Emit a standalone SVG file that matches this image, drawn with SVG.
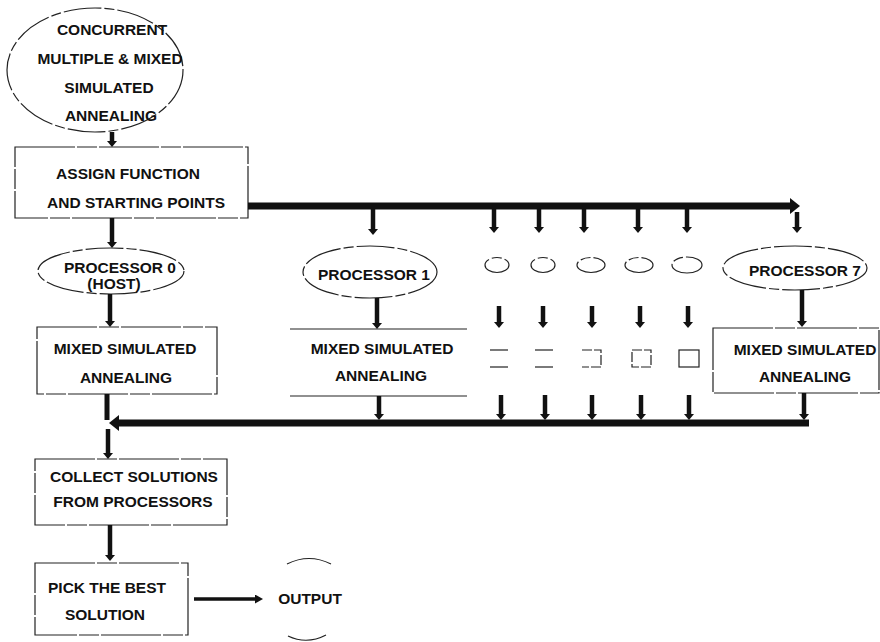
<svg xmlns="http://www.w3.org/2000/svg" width="880" height="642" viewBox="0 0 880 642">
<style>
.t{font-family:"Liberation Sans",Arial,sans-serif;font-weight:bold;font-size:15.5px;text-anchor:middle;fill:#111}
.sh{fill:none;stroke:#222;stroke-width:1.2;stroke-dasharray:38 3 10 3}
.sb{fill:none;stroke:#222;stroke-width:1.2;stroke-dasharray:60 2 20 2}
.ln{fill:none;stroke:#222;stroke-width:1.2}
.ar{fill:none;stroke:#111;stroke-width:4.5;marker-end:url(#ah)}
.bus{fill:none;stroke:#111;stroke-width:7}
</style>
<defs>
<marker id="ah" viewBox="0 0 6 10" refX="0" refY="5" markerWidth="6" markerHeight="10" markerUnits="userSpaceOnUse" orient="auto"><path d="M0,0 L6,5 L0,10 z" fill="#111"/></marker>
<marker id="bh" viewBox="0 0 10 16" refX="0" refY="8" markerWidth="10" markerHeight="16" markerUnits="userSpaceOnUse" orient="auto"><path d="M0,0 L10,8 L0,16 z" fill="#111"/></marker>
<marker id="oh" viewBox="0 0 8 9" refX="0" refY="4.5" markerWidth="8" markerHeight="9" markerUnits="userSpaceOnUse" orient="auto"><path d="M0,0 L8,4.5 L0,9 z" fill="#111"/></marker>
</defs>
<rect width="880" height="642" fill="#fff"/>

<g id="start">
<ellipse class="sh" cx="95" cy="70" rx="88" ry="62" stroke-dasharray="60 4 14 5 30 8"/>
<text class="t" x="112" y="35">CONCURRENT</text>
<text class="t" x="110" y="64">MULTIPLE &amp; MIXED</text>
<text class="t" x="109" y="93">SIMULATED</text>
<text class="t" x="111" y="121">ANNEALING</text>
</g>

<g id="assign">
<rect class="sb" x="15" y="147" width="233" height="71"/>
<text class="t" x="128" y="179">ASSIGN FUNCTION</text>
<text class="t" x="136" y="208">AND STARTING POINTS</text>
</g>

<g id="proc0">
<ellipse class="sh" cx="111" cy="271" rx="73" ry="23"/>
<text class="t" x="120" y="273">PROCESSOR 0</text>
<text class="t" x="114" y="289">(HOST)</text>
</g>

<g id="msa0">
<rect class="sb" x="37" y="327" width="180" height="67"/>
<text class="t" x="125" y="354">MIXED SIMULATED</text>
<text class="t" x="126" y="383">ANNEALING</text>
</g>

<g id="proc1">
<ellipse class="sh" cx="370" cy="272" rx="67" ry="26"/>
<text class="t" x="374" y="280">PROCESSOR 1</text>
</g>

<g id="msa1">
<line class="ln" x1="290" y1="329" x2="467" y2="329"/>
<line class="ln" x1="290" y1="396" x2="467" y2="396"/>
<text class="t" x="382" y="354">MIXED SIMULATED</text>
<text class="t" x="381" y="381">ANNEALING</text>
</g>

<g id="procs-mid">
<ellipse class="sh" cx="497" cy="265" rx="12" ry="7.5" stroke-dasharray="12 6"/>
<ellipse class="sh" cx="543" cy="265" rx="12" ry="7.5" stroke-dasharray="12 6"/>
<ellipse class="sh" cx="591" cy="265" rx="14" ry="7.5" stroke-dasharray="14 3"/>
<ellipse class="sh" cx="639" cy="265" rx="14" ry="7.5" stroke-dasharray="14 3"/>
<ellipse class="sh" cx="687" cy="265" rx="15" ry="8" stroke-dasharray="16 3"/>
</g>

<g id="msa-mid">
<line class="ln" x1="490" y1="350" x2="508" y2="350"/>
<line class="ln" x1="490" y1="367" x2="508" y2="367"/>
<line class="ln" x1="535" y1="350" x2="553" y2="350"/>
<line class="ln" x1="535" y1="367" x2="553" y2="367"/>
<path class="ln" d="M582,350 H601 V367 H582" stroke-dasharray="10 2"/>
<rect class="ln" x="632" y="350" width="19" height="17" stroke-dasharray="10 2"/>
<rect class="ln" x="679" y="350" width="20" height="17"/>
</g>

<g id="proc7">
<ellipse class="sh" cx="795" cy="268" rx="72" ry="22"/>
<text class="t" x="805" y="276">PROCESSOR 7</text>
</g>

<g id="msa7">
<rect class="sb" x="713" y="328" width="166" height="65"/>
<text class="t" x="805" y="355">MIXED SIMULATED</text>
<text class="t" x="805" y="382">ANNEALING</text>
</g>

<g id="collect">
<rect class="sb" x="35" y="459" width="192" height="66"/>
<text class="t" x="134" y="482">COLLECT SOLUTIONS</text>
<text class="t" x="133" y="507">FROM PROCESSORS</text>
</g>

<g id="pick">
<rect class="sb" x="35" y="563" width="153" height="72"/>
<text class="t" x="107" y="593">PICK THE BEST</text>
<text class="t" x="105" y="620">SOLUTION</text>
</g>

<g id="output">
<path class="ln" d="M287,564 Q309,553 331,564"/>
<path class="ln" d="M288,636 Q307,645 326,635"/>
<text class="t" x="310" y="604">OUTPUT</text>
</g>

<g id="connectors">
<line class="ar" x1="112" y1="132" x2="112" y2="141"/>
<line class="ar" x1="112" y1="218" x2="112" y2="242"/>
<line class="ar" x1="110" y1="294" x2="110" y2="321"/>
<line class="bus" x1="248" y1="206" x2="790" y2="206" marker-end="url(#bh)"/>
<line class="ar" x1="373" y1="209" x2="373" y2="229"/>
<line class="ar" x1="494" y1="209" x2="494" y2="227"/>
<line class="ar" x1="539" y1="209" x2="539" y2="227"/>
<line class="ar" x1="584" y1="209" x2="584" y2="227"/>
<line class="ar" x1="638" y1="209" x2="638" y2="227"/>
<line class="ar" x1="687" y1="209" x2="687" y2="227"/>
<line class="ar" x1="797" y1="212" x2="797" y2="227"/>
<line class="ar" x1="377" y1="298" x2="377" y2="323"/>
<line class="ar" x1="499" y1="306" x2="499" y2="322"/>
<line class="ar" x1="543" y1="306" x2="543" y2="322"/>
<line class="ar" x1="592" y1="306" x2="592" y2="322"/>
<line class="ar" x1="640" y1="306" x2="640" y2="322"/>
<line class="ar" x1="688" y1="306" x2="688" y2="322"/>
<line class="ar" x1="802" y1="290" x2="802" y2="321"/>
<line class="ar" x1="379" y1="396" x2="379" y2="414"/>
<line class="ar" x1="501" y1="395" x2="501" y2="414"/>
<line class="ar" x1="545" y1="395" x2="545" y2="414"/>
<line class="ar" x1="592" y1="395" x2="592" y2="414"/>
<line class="ar" x1="641" y1="395" x2="641" y2="414"/>
<line class="ar" x1="689" y1="395" x2="689" y2="414"/>
<line class="ar" x1="804" y1="393" x2="804" y2="414"/>
<line fill="none" stroke="#111" stroke-width="5" x1="107" y1="394" x2="107" y2="420"/>
<line class="bus" x1="809" y1="423" x2="119" y2="423" marker-end="url(#bh)"/>
<line class="ar" x1="108" y1="429" x2="108" y2="453"/>
<line class="ar" x1="110" y1="525" x2="110" y2="555"/>
<line fill="none" stroke="#111" stroke-width="3.5" marker-end="url(#oh)" x1="194" y1="599" x2="255" y2="599"/>
</g>
</svg>
